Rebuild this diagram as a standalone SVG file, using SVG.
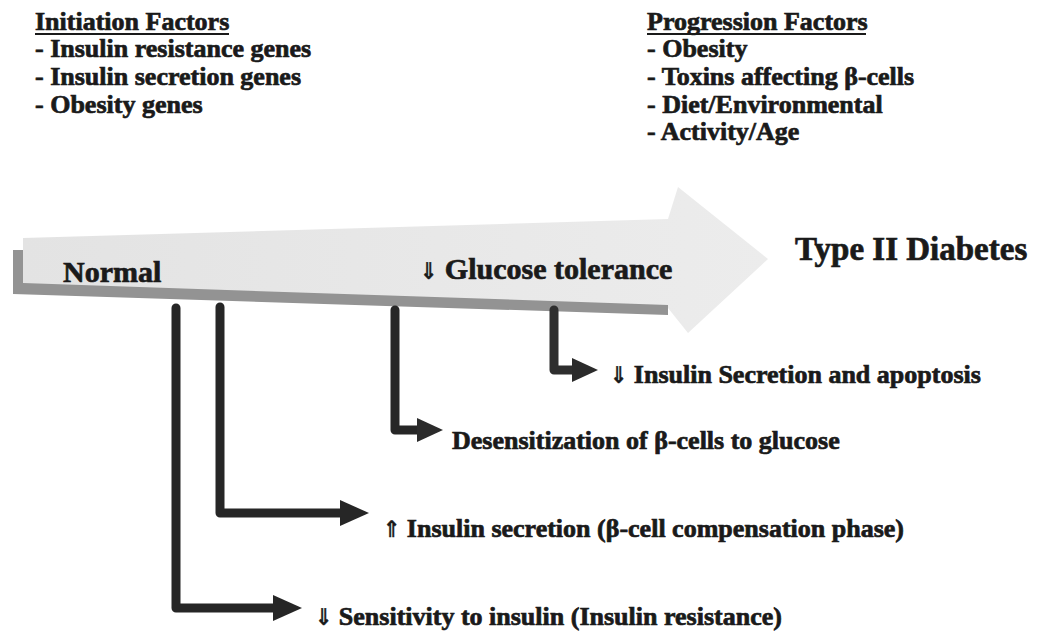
<svg xmlns="http://www.w3.org/2000/svg" width="1037" height="632" viewBox="0 0 1037 632">
  <defs>
    <linearGradient id="bodyGrad" x1="0" y1="0" x2="1" y2="0">
      <stop offset="0" stop-color="#e3e3e3"/>
      <stop offset="1" stop-color="#ececec"/>
    </linearGradient>
    <marker id="headL" viewBox="0 -13 29 26" markerWidth="29" markerHeight="26" refX="1" refY="0" orient="auto" markerUnits="userSpaceOnUse">
      <path d="M0,-13 L29,0 L0,13 z" fill="#262626"/>
    </marker>
    <marker id="headS" viewBox="0 -12 26 24" markerWidth="26" markerHeight="24" refX="1" refY="0" orient="auto" markerUnits="userSpaceOnUse">
      <path d="M0,-12 L26,0 L0,12 z" fill="#2b2b2b"/>
    </marker>
  </defs>
  <style>
    text { font-family: "Liberation Serif", "Times New Roman", serif; font-weight: bold; fill: #1a1a1a; stroke: #1a1a1a; stroke-width: 0.7; }
    .f26 { font-size: 26px; }
    .big { font-size: 30px; }
    .title { font-size: 33px; }
    .sym { font-family: "DejaVu Sans Condensed", "DejaVu Sans", sans-serif; font-size: 23px; stroke-width: 0.3; }
    .conn { fill: none; stroke: #262626; stroke-width: 9; stroke-linejoin: round; stroke-linecap: round; }
    .ul { stroke: #1a1a1a; stroke-width: 2; }
  </style>

  <g id="initiation-factors">
    <text class="f26" x="35" y="30">Initiation Factors</text>
    <line class="ul" x1="35" y1="34" x2="229" y2="34"/>
    <text class="f26" x="35" y="57">- Insulin resistance genes</text>
    <text class="f26" x="35" y="85">- Insulin secretion genes</text>
    <text class="f26" x="35" y="113">- Obesity genes</text>
  </g>

  <g id="progression-factors">
    <text class="f26" x="647" y="30">Progression Factors</text>
    <line class="ul" x1="647" y1="34" x2="866" y2="34"/>
    <text class="f26" x="647" y="57">- Obesity</text>
    <text class="f26" x="647" y="85">- Toxins affecting β-cells</text>
    <text class="f26" x="647" y="113">- Diet/Environmental</text>
    <text class="f26" x="647" y="140">- Activity/Age</text>
  </g>

  <g id="progression-arrow">
    <polygon points="23,238 668,219 678,187 768,259 688,333 668,308 23,284" fill="url(#bodyGrad)"/>
    <polygon points="13,250 23,250 23,283 668,305 668,315 13,294" fill="#939393"/>
    <text class="big" x="63" y="282">Normal</text>
    <text class="big" x="420" y="279"><tspan class="sym">⇓</tspan> Glucose tolerance</text>
  </g>

  <g id="type2-diabetes">
    <text class="title" x="795" y="260">Type II Diabetes</text>
  </g>

  <g id="connectors">
    <path class="conn" d="M176,308 V608 H274" marker-end="url(#headL)"/>
    <path class="conn" d="M220,307 V513 H341" marker-end="url(#headL)"/>
    <path class="conn" d="M395,310 V430 H418" marker-end="url(#headS)"/>
    <path class="conn" d="M554,310 V370 H573" marker-end="url(#headS)" style="stroke:#2e2e2e"/>
  </g>

  <g id="label-insulin-secretion-apoptosis">
    <text class="f26" x="610" y="383"><tspan class="sym">⇓</tspan> Insulin Secretion and apoptosis</text>
  </g>
  <g id="label-desensitization">
    <text class="f26" x="452" y="449">Desensitization of β-cells to glucose</text>
  </g>
  <g id="label-insulin-secretion-up">
    <text class="f26" x="383" y="537"><tspan class="sym">⇑</tspan> Insulin secretion (β-cell compensation phase)</text>
  </g>
  <g id="label-sensitivity">
    <text class="f26" x="315" y="625"><tspan class="sym">⇓</tspan> Sensitivity to insulin (Insulin resistance)</text>
  </g>
</svg>
